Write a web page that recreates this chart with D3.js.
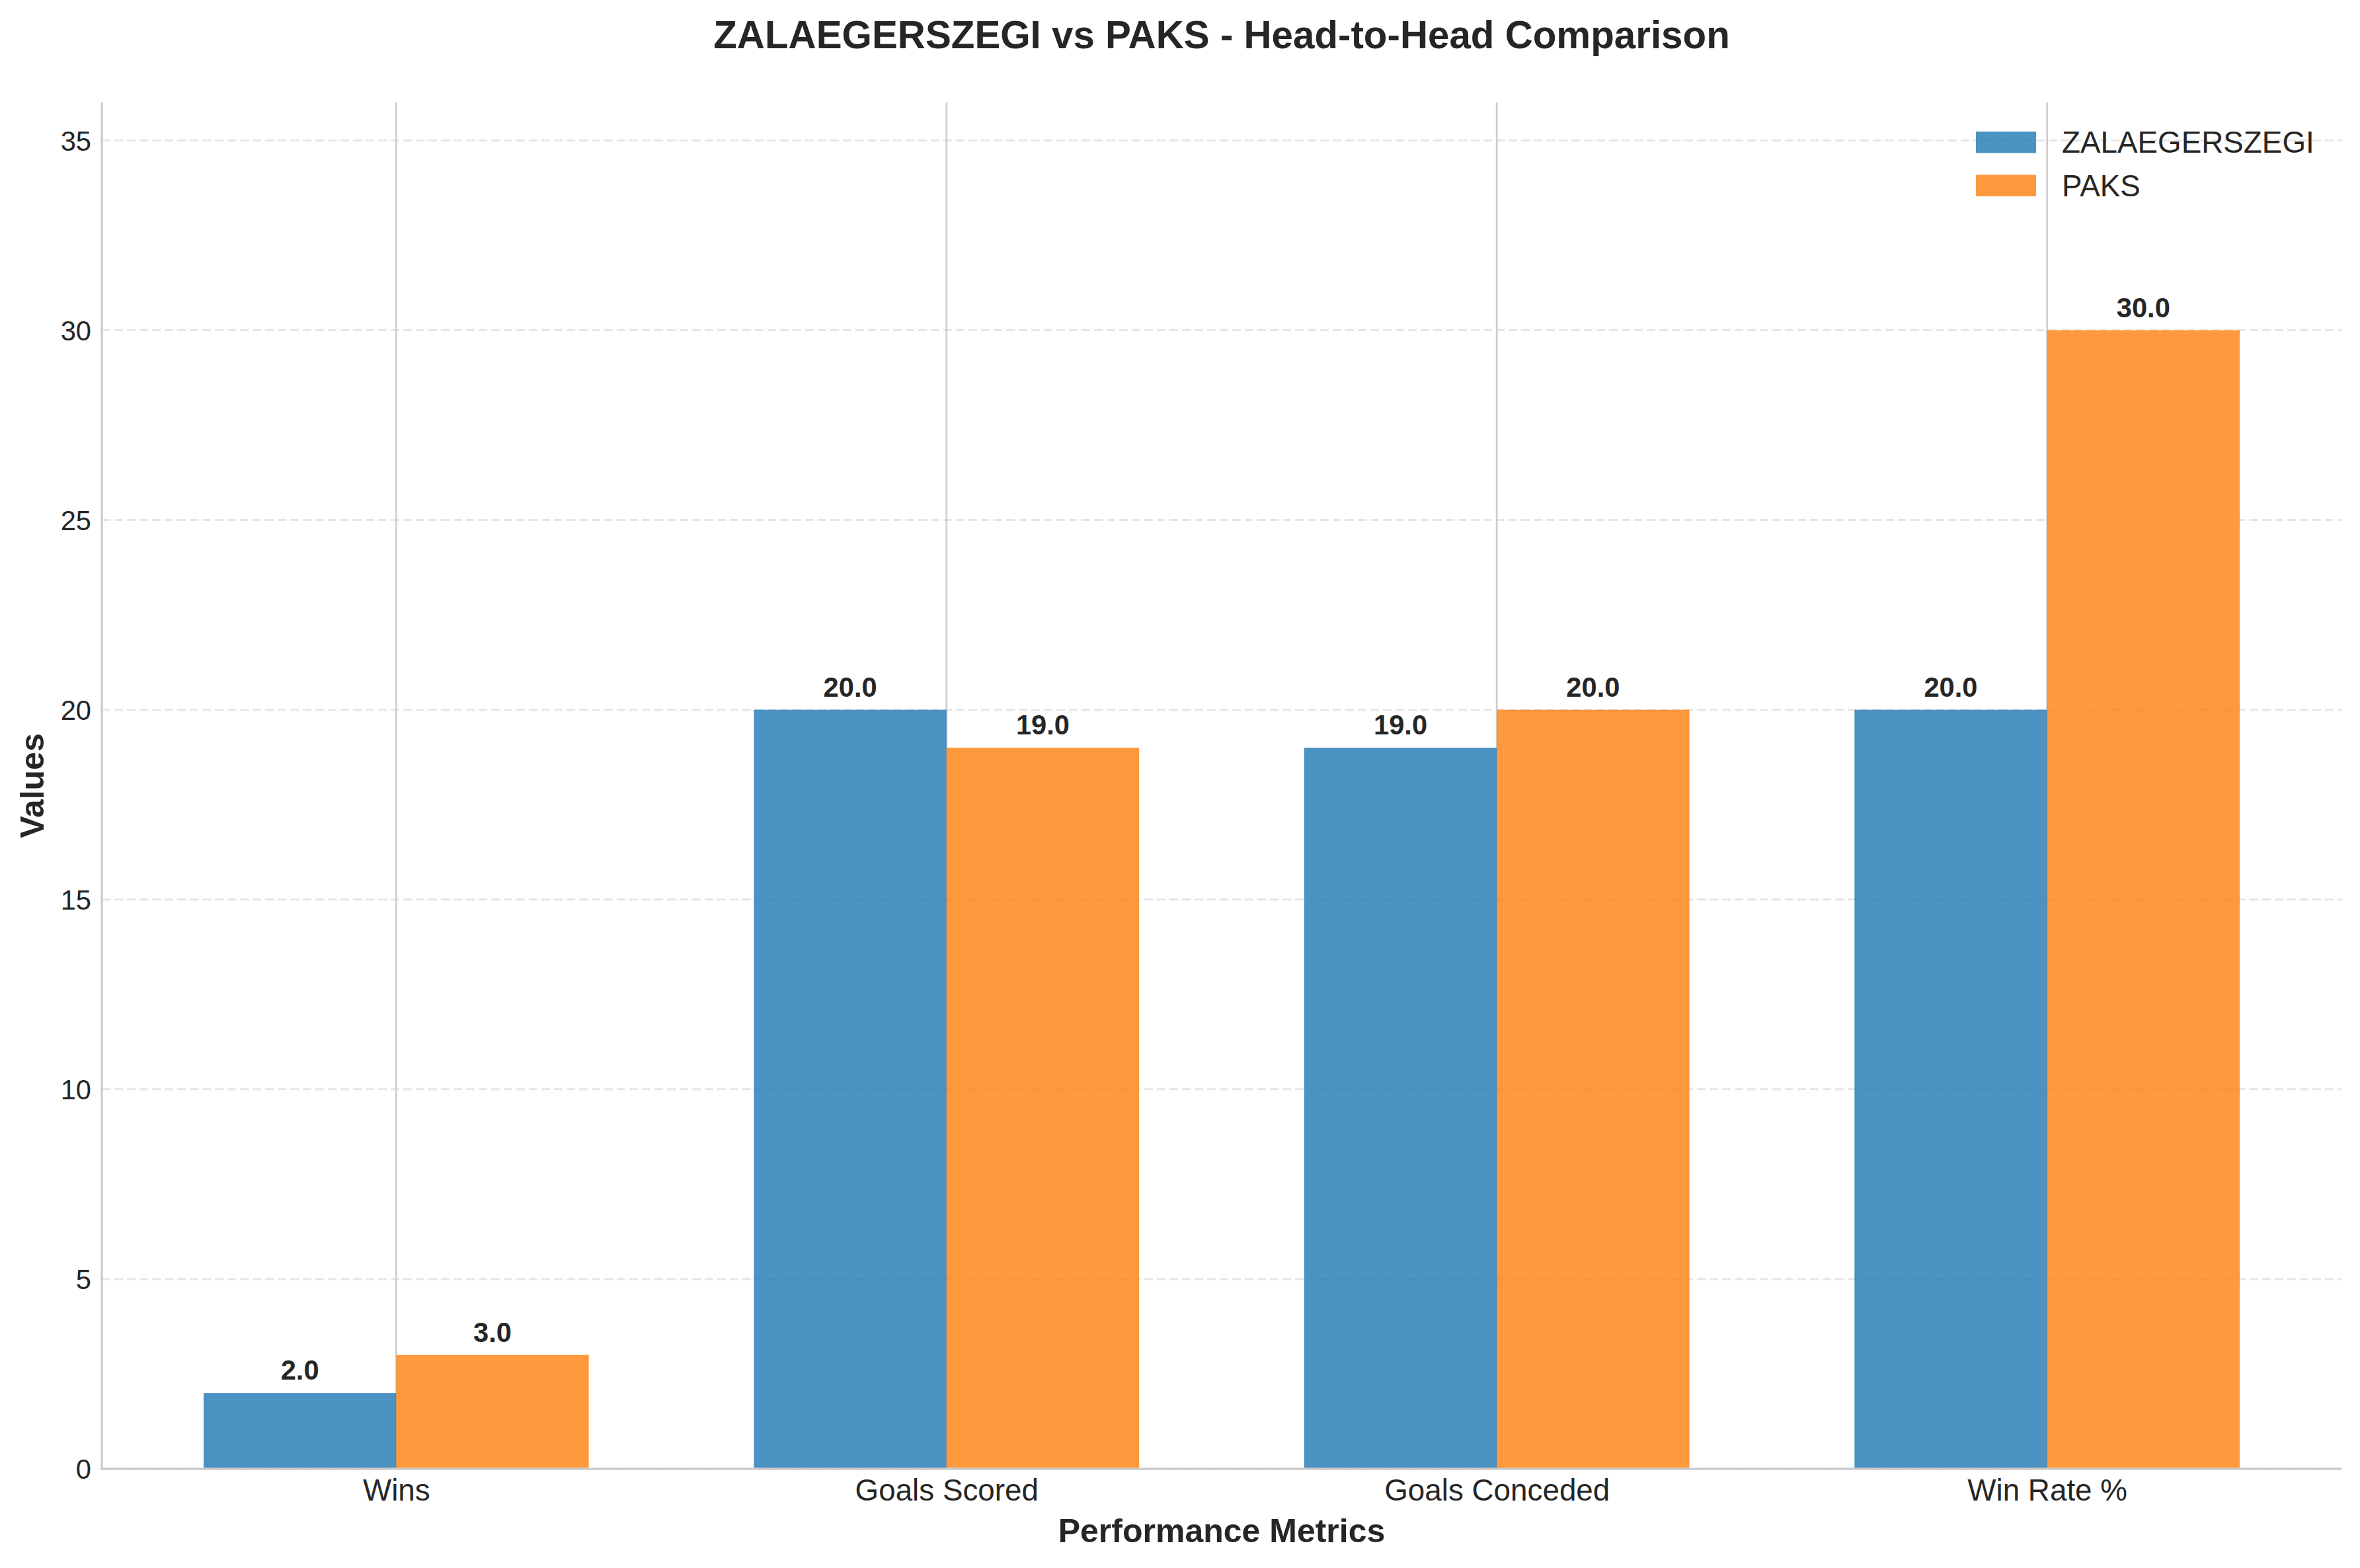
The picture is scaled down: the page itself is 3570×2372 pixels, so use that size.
<!DOCTYPE html>
<html>
<head>
<meta charset="utf-8">
<script src="https://cdn.jsdelivr.net/npm/d3@7"></script>
<style>
  html, body { margin: 0; padding: 0; background: #ffffff; }
  svg { display: block; }
  text { font-family: "Liberation Sans", Arial, Helvetica, sans-serif; fill: #262626; }
</style>
</head>
<body>
<script>
// ---- Data ----
const categories = ["Wins", "Goals Scored", "Goals Conceded", "Win Rate %"];
const seriesNames = ["ZALAEGERSZEGI", "PAKS"];
const zalaValues = [2, 20, 19, 20];
const paksValues = [3, 19, 20, 30];
const yTicks = [0, 5, 10, 15, 20, 25, 30, 35];
const seriesColors = ["#1f77b4", "#ff7f0e"];
const titleText = "ZALAEGERSZEGI vs PAKS - Head-to-Head Comparison";
const xLabelText = "Performance Metrics";
const yLabelText = "Values";

(function () {
const W = 3570, H = 2372;
const pLeft = 154, pRight = 3542, pTop = 155, pBottom = 2222;
const barW = 0.35;

const svg = d3.select("body").append("svg").attr("width", W).attr("height", H);

const series = [zalaValues, paksValues];
const maxVal = d3.max(series.flat());
const margin = (categories.length - 1 + 2 * barW) * 0.05;
const x = d3.scaleLinear()
  .domain([-barW - margin, categories.length - 1 + barW + margin])
  .range([pLeft, pRight]);
const y = d3.scaleLinear().domain([0, maxVal * 1.2]).range([pBottom, pTop]);

// horizontal dashed grid
svg.append("g").selectAll("line").data(yTicks).join("line")
  .attr("x1", pLeft).attr("x2", pRight)
  .attr("y1", d => y(d)).attr("y2", d => y(d))
  .attr("stroke", "#e6e6e6").attr("stroke-width", 3)
  .attr("stroke-dasharray", "13,6");

// vertical solid grid at categories
svg.append("g").selectAll("line").data(categories.map((c, i) => i)).join("line")
  .attr("x1", d => x(d)).attr("x2", d => x(d))
  .attr("y1", pTop).attr("y2", pBottom)
  .attr("stroke", "#cfcfcf").attr("stroke-width", 2.8);

// bars
series.forEach((vals, si) => {
  const off = si === 0 ? -barW / 2 : barW / 2;
  svg.append("g").selectAll("rect").data(vals).join("rect")
    .attr("x", (d, i) => x(i + off - barW / 2))
    .attr("width", (d, i) => x(i + off + barW / 2) - x(i + off - barW / 2))
    .attr("y", d => y(d))
    .attr("height", d => y(0) - y(d))
    .attr("fill", seriesColors[si])
    .attr("fill-opacity", 0.8);
  svg.append("g").selectAll("text").data(vals).join("text")
    .attr("x", (d, i) => x(i + off))
    .attr("y", d => y(d) - 20)
    .attr("text-anchor", "middle")
    .attr("font-size", 41.7)
    .attr("font-weight", "bold")
    .text(d => d.toFixed(1));
});

// spines
svg.append("line").attr("x1", pLeft).attr("x2", pLeft).attr("y1", pTop).attr("y2", pBottom + 1.6)
  .attr("stroke", "#cccccc").attr("stroke-width", 3.3);
svg.append("line").attr("x1", pLeft - 1.6).attr("x2", pRight).attr("y1", pBottom).attr("y2", pBottom)
  .attr("stroke", "#cccccc").attr("stroke-width", 3.3);

// y axis tick labels
const yAxis = d3.axisLeft(y).tickValues(yTicks).tickSize(0).tickPadding(0).tickFormat(d3.format("d"));
const gy = svg.append("g").attr("transform", `translate(${pLeft - 16},0)`).call(yAxis);
gy.select(".domain").remove();
gy.selectAll("text").attr("font-size", 41.7).attr("fill", "#262626")
  .attr("font-family", "'Liberation Sans', Arial, sans-serif").attr("dy", "0.35em").attr("x", 0);

// x axis tick labels
const xAxis = d3.axisBottom(x).tickValues(categories.map((c, i) => i)).tickSize(0).tickPadding(0)
  .tickFormat(i => categories[i]);
const gx = svg.append("g").attr("transform", `translate(0,${pBottom})`).call(xAxis);
gx.select(".domain").remove();
gx.selectAll("text").attr("font-size", 45.8).attr("fill", "#262626")
  .attr("font-family", "'Liberation Sans', Arial, sans-serif").attr("dy", null).attr("y", 48);

// axis labels
svg.append("text").attr("x", (pLeft + pRight) / 2).attr("y", 2333)
  .attr("text-anchor", "middle").attr("font-size", 50).attr("font-weight", "bold").text(xLabelText);
svg.append("text").attr("transform", `translate(66,${(pTop + pBottom) / 2}) rotate(-90)`)
  .attr("text-anchor", "middle").attr("font-size", 50).attr("font-weight", "bold").text(yLabelText);

// title
svg.append("text").attr("x", (pLeft + pRight) / 2).attr("y", 73)
  .attr("text-anchor", "middle").attr("font-size", 58.3).attr("font-weight", "bold").text(titleText);

// legend
const legend = svg.append("g");
seriesNames.forEach((name, i) => {
  const ly = 199 + i * 65.5;
  legend.append("rect").attr("x", 2989).attr("y", ly).attr("width", 91).attr("height", 32.5)
    .attr("fill", seriesColors[i]).attr("fill-opacity", 0.8);
  legend.append("text").attr("x", 3119).attr("y", ly + 32).attr("font-size", 45.8).text(name);
});
})();
</script>
</body>
</html>
